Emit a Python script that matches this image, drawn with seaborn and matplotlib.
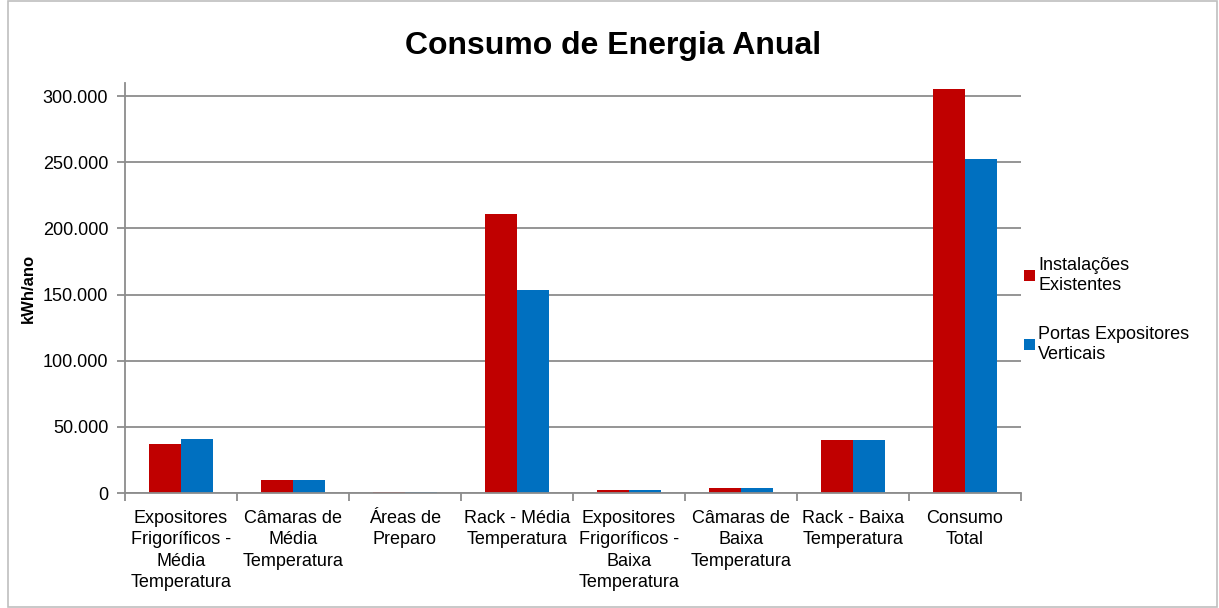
import matplotlib
matplotlib.use("Agg")
import matplotlib.pyplot as plt
import seaborn as sns
import pandas as pd
from matplotlib.patches import Rectangle
from matplotlib.ticker import FuncFormatter, FixedLocator

categories = [
    "Expositores\nFrigoríficos -\nMédia\nTemperatura",
    "Câmaras de\nMédia\nTemperatura",
    "Áreas de\nPreparo",
    "Rack - Média\nTemperatura",
    "Expositores\nFrigoríficos -\nBaixa\nTemperatura",
    "Câmaras de\nBaixa\nTemperatura",
    "Rack - Baixa\nTemperatura",
    "Consumo\nTotal",
]
series_names = ["Instalações\nExistentes", "Portas Expositores\nVerticais"]
existentes = [36800, 9600, 500, 210800, 2000, 3500, 40000, 305800]
portas = [40800, 9600, 500, 153400, 2000, 3500, 40000, 252900]
y_ticks = [0, 50000, 100000, 150000, 200000, 250000, 300000]

df = pd.DataFrame({
    "categoria": categories * 2,
    "serie": [series_names[0]] * len(categories) + [series_names[1]] * len(categories),
    "valor": existentes + portas,
})

sns.set_theme(style="white")
plt.rcParams["font.family"] = ["Liberation Sans", "DejaVu Sans"]
plt.rcParams["text.color"] = "black"

fig = plt.figure(figsize=(12.19, 6.08), dpi=100)
ax = fig.add_axes([125 / 1219, 1 - 493 / 608, (1021 - 125) / 1219, (493 - 83) / 608])

sns.barplot(data=df, x="categoria", y="valor", hue="serie", order=categories,
            hue_order=series_names, palette=["#C00000", "#0070C0"],
            width=0.57, saturation=1, ax=ax, errorbar=None, linewidth=0)

ax.set_ylim(0, 310000)
ax.set_xlim(-0.5, len(categories) - 0.5)
ax.yaxis.set_major_locator(FixedLocator(y_ticks))
ax.yaxis.set_major_formatter(FuncFormatter(lambda v, p: f"{int(v):,}".replace(",", ".")))
ax.grid(axis="y", color="#8C8C8C", linewidth=1.3)
ax.set_axisbelow(True)

for side in ["top", "right"]:
    ax.spines[side].set_visible(False)
for side in ["left", "bottom"]:
    ax.spines[side].set_color("#8C8C8C")
    ax.spines[side].set_linewidth(1.3)

ax.tick_params(axis="y", which="major", length=6, width=1.3, color="#8C8C8C",
               direction="out", left=True, labelsize=13, labelcolor="black", pad=6)
ax.tick_params(axis="x", which="major", length=0, labelsize=13, labelcolor="black", pad=12)
ax.set_xticks([i - 0.5 for i in range(len(categories) + 1)], minor=True)
ax.tick_params(axis="x", which="minor", length=6, width=1.3, color="#8C8C8C",
               direction="out", bottom=True)
for lbl in ax.get_xticklabels():
    lbl.set_linespacing(1.35)

ax.set_xlabel("")
ax.set_ylabel("kWh/ano", fontsize=12, fontweight="bold", color="black")
ax.yaxis.set_label_coords(-0.1, 0.5)

fig.text(613 / 1219, 1 - 46 / 608, "Consumo de Energia Anual", fontsize=23,
         fontweight="bold", color="black", ha="center", va="center")

handles, labels = ax.get_legend_handles_labels()
leg = ax.legend(handles, labels, loc="center left", bbox_to_anchor=(0.995, 0.447),
                frameon=False, fontsize=13, handlelength=0.6, handleheight=0.6,
                handletextpad=0.2, labelspacing=1.75, borderaxespad=0.0)
for t in leg.get_texts():
    t.set_linespacing(1.25)

fig.patches.append(Rectangle((8 / 1219, 1 / 608), 1209 / 1219, 606 / 608,
                             transform=fig.transFigure, fill=False,
                             edgecolor="#BFBFBF", linewidth=1.2))

fig.savefig("out.png", dpi=100)
